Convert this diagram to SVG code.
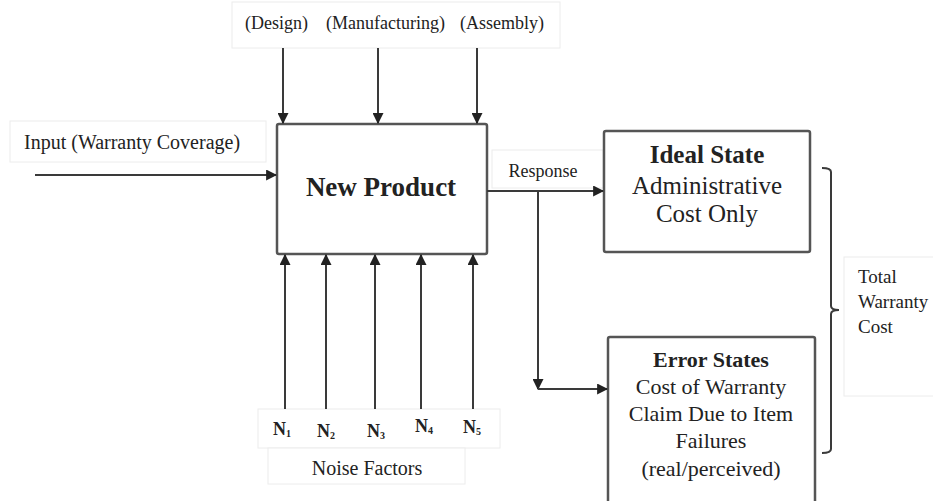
<svg xmlns="http://www.w3.org/2000/svg" width="933" height="501" viewBox="0 0 933 501">
<defs>
<style>
.lbl{fill:#fff;stroke:#ececec;stroke-width:1}
.box{fill:#fff;stroke:#555;stroke-width:2.5}
.ln{stroke:#3a3a3a;stroke-width:2;fill:none}
text{font-family:"Liberation Serif","Times New Roman",serif;fill:#222}
.b{font-weight:bold}
</style>
<marker id="ah2" viewBox="0 0 10 10" refX="9" refY="5" markerWidth="11" markerHeight="11" orient="auto" markerUnits="userSpaceOnUse">
<path d="M0,0 L10,5 L0,10 z" fill="#222"/>
</marker>
</defs>
<rect width="933" height="501" fill="#fff"/>

<g id="top-labels">
<rect class="lbl" x="232" y="2" width="328" height="46"/>
<text x="245" y="29" font-size="18">(Design)</text>
<text x="326" y="29" font-size="18">(Manufacturing)</text>
<text x="460" y="29" font-size="18">(Assembly)</text>
</g>

<g id="input-label">
<rect class="lbl" x="10" y="121" width="256" height="41"/>
<text x="24" y="149" font-size="20">Input (Warranty Coverage)</text>
</g>

<g id="new-product">
<rect class="box" x="277" y="124" width="210" height="130" rx="2"/>
<text x="381" y="196" font-size="27" class="b" text-anchor="middle">New Product</text>
</g>

<g id="response-label">
<rect class="lbl" x="492" y="150" width="111" height="38"/>
<text x="543" y="177" font-size="18" text-anchor="middle">Response</text>
</g>

<g id="ideal-state">
<rect class="box" x="604" y="131" width="206" height="121" rx="2"/>
<text x="707" y="163" font-size="25" class="b" text-anchor="middle">Ideal State</text>
<text x="707" y="194" font-size="25" text-anchor="middle">Administrative</text>
<text x="707" y="222" font-size="25" text-anchor="middle">Cost Only</text>
</g>

<g id="error-states">
<rect class="box" x="608" y="337" width="207" height="175" rx="2"/>
<text x="711" y="367" font-size="22" class="b" text-anchor="middle">Error States</text>
<text x="711" y="394" font-size="22" text-anchor="middle">Cost of Warranty</text>
<text x="711" y="421" font-size="22" text-anchor="middle">Claim Due to Item</text>
<text x="711" y="448" font-size="22" text-anchor="middle">Failures</text>
<text x="711" y="476" font-size="22" text-anchor="middle">(real/perceived)</text>
</g>

<g id="total-cost">
<rect class="lbl" x="844" y="257" width="95" height="139"/>
<text x="858" y="283" font-size="19">Total</text>
<text x="858" y="308" font-size="19">Warranty</text>
<text x="858" y="333" font-size="19">Cost</text>
</g>

<g id="noise-factors">
<rect class="lbl" x="258" y="409" width="242" height="39"/>
<rect class="lbl" x="268" y="448" width="197" height="36"/>
<text x="273" y="435" font-size="18" class="b">N<tspan font-size="10" dy="2">1</tspan></text>
<text x="317" y="437" font-size="18" class="b">N<tspan font-size="10" dy="2">2</tspan></text>
<text x="367" y="437" font-size="18" class="b">N<tspan font-size="10" dy="2">3</tspan></text>
<text x="415" y="432" font-size="18" class="b">N<tspan font-size="10" dy="2">4</tspan></text>
<text x="463" y="433" font-size="18" class="b">N<tspan font-size="10" dy="2">5</tspan></text>
<text x="367" y="475" font-size="20" text-anchor="middle">Noise Factors</text>
</g>

<g id="connectors">
<line class="ln" x1="283" y1="48" x2="283" y2="123" marker-end="url(#ah2)"/>
<line class="ln" x1="378" y1="48" x2="378" y2="123" marker-end="url(#ah2)"/>
<line class="ln" x1="477" y1="48" x2="477" y2="123" marker-end="url(#ah2)"/>
<line class="ln" x1="35" y1="175" x2="276" y2="175" marker-end="url(#ah2)"/>
<line class="ln" x1="487" y1="191" x2="603" y2="191" marker-end="url(#ah2)"/>
<line class="ln" x1="538" y1="191" x2="538" y2="389" marker-end="url(#ah2)"/>
<line class="ln" x1="538" y1="389" x2="607" y2="389" marker-end="url(#ah2)"/>
<line class="ln" x1="285" y1="409" x2="285" y2="255" marker-end="url(#ah2)"/>
<line class="ln" x1="326" y1="409" x2="326" y2="255" marker-end="url(#ah2)"/>
<line class="ln" x1="375" y1="409" x2="375" y2="255" marker-end="url(#ah2)"/>
<line class="ln" x1="421" y1="409" x2="421" y2="255" marker-end="url(#ah2)"/>
<line class="ln" x1="473" y1="409" x2="473" y2="255" marker-end="url(#ah2)"/>
<path class="ln" d="M822,168 Q831,168 831,172 L831,306 Q831,310 839,310 Q831,310 831,314 L831,449 Q831,453 822,453" stroke="#555"/>
</g>
</svg>
